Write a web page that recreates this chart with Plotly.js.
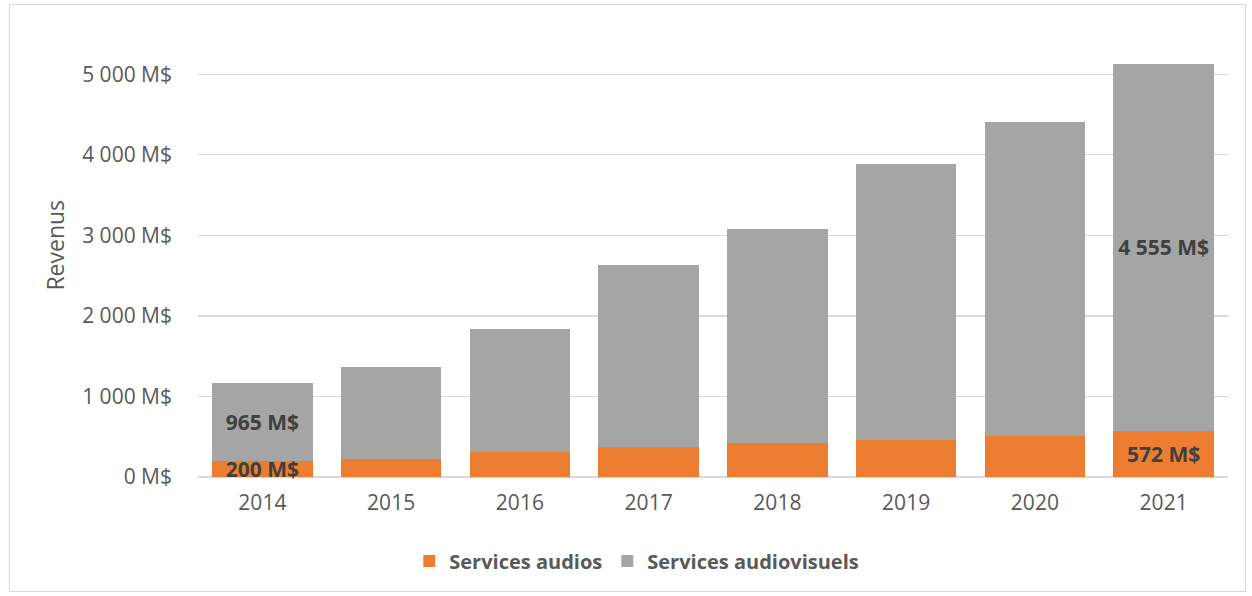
<!DOCTYPE html>
<html>
<head>
<meta charset="utf-8">
<script src="https://cdn.plot.ly/plotly-3.0.1.min.js"></script>
<style>
  html, body { margin: 0; padding: 0; background: #fff; }
  #wrap { position: relative; width: 1252px; height: 596px; }
  #chart { position: absolute; left: 0; top: 0; width: 1252px; height: 596px; }
  #frame { position: absolute; left: 9px; top: 4px; width: 1235px; height: 586px; border: 1px solid #d9d9d9; pointer-events: none; }
</style>
</head>
<body>
<div id="wrap"><div id="chart"></div><div id="frame"></div></div>
<script>
const years = ['2014', '2015', '2016', '2017', '2018', '2019', '2020', '2021'];
const audio = [200, 222, 305, 368, 418, 460, 515, 572];
const audiovisual = [965, 1143, 1535, 2262, 2662, 3425, 3895, 4555];
const seriesNames = ['Services audios', 'Services audiovisuels'];
const tickValues = [0, 1000, 2000, 3000, 4000, 5000];
const tickLabels = ['0 M$', '1 000 M$', '2 000 M$', '3 000 M$', '4 000 M$', '5 000 M$'];
const labelledIdx = [0, 7];

function fmt(v) {
  return String(v).replace(/\B(?=(\d{3})+(?!\d))/g, ' ') + ' M$';
}
function labels(arr) {
  return arr.map((v, i) => labelledIdx.includes(i) ? fmt(v) : '');
}

const font = '"Open Sans", sans-serif';
const labelFont = { family: font, size: 21, color: '#404040', weight: 'bold' };

const traces = [
  {
    type: 'bar', name: seriesNames[0], x: years, y: audio,
    marker: { color: '#ED7D31' },
    text: labels(audio), textposition: 'inside', insidetextanchor: 'middle',
    constraintext: 'none', textfont: labelFont, hoverinfo: 'skip', cliponaxis: false
  },
  {
    type: 'bar', name: seriesNames[1], x: years, y: audiovisual,
    marker: { color: '#A5A5A5' },
    text: labels(audiovisual), textposition: 'inside', insidetextanchor: 'middle',
    constraintext: 'none', textfont: labelFont, hoverinfo: 'skip'
  }
];

const layout = {
  width: 1252, height: 596,
  margin: { l: 198, r: 24, t: 50, b: 119, pad: 0 },
  paper_bgcolor: 'rgba(0,0,0,0)', plot_bgcolor: '#fff',
  barmode: 'stack', bargap: 0.22,
  showlegend: true,
  legend: {
    orientation: 'h', x: 0.426, xanchor: 'center', y: -0.197, yanchor: 'middle',
    font: { family: font, size: 20, color: '#595959', weight: 'bold' },
    itemwidth: 30, traceorder: 'normal'
  },
  xaxis: {
    type: 'category', showgrid: false, zeroline: false, showline: false,
    ticks: '', ticklabelstandoff: 11,
    tickfont: { family: font, size: 21, color: '#595959' }
  },
  yaxis: {
    range: [0, 5300], tickvals: tickValues, ticktext: tickLabels,
    showgrid: true, gridcolor: '#d9d9d9', gridwidth: 1.3,
    zeroline: true, zerolinecolor: '#d9d9d9', zerolinewidth: 1.3,
    showline: false, ticks: '', ticklabelstandoff: 25,
    tickfont: { family: font, size: 21, color: '#595959' }
  },
  annotations: [{
    text: 'Revenus', xref: 'paper', yref: 'paper', x: -0.1388, y: 0.542,
    xanchor: 'center', yanchor: 'middle', textangle: -90, showarrow: false,
    font: { family: font, size: 23, color: '#595959' }
  }],
  hovermode: false
};

Plotly.newPlot('chart', traces, layout, { displayModeBar: false, staticPlot: true });
</script>
</body>
</html>
